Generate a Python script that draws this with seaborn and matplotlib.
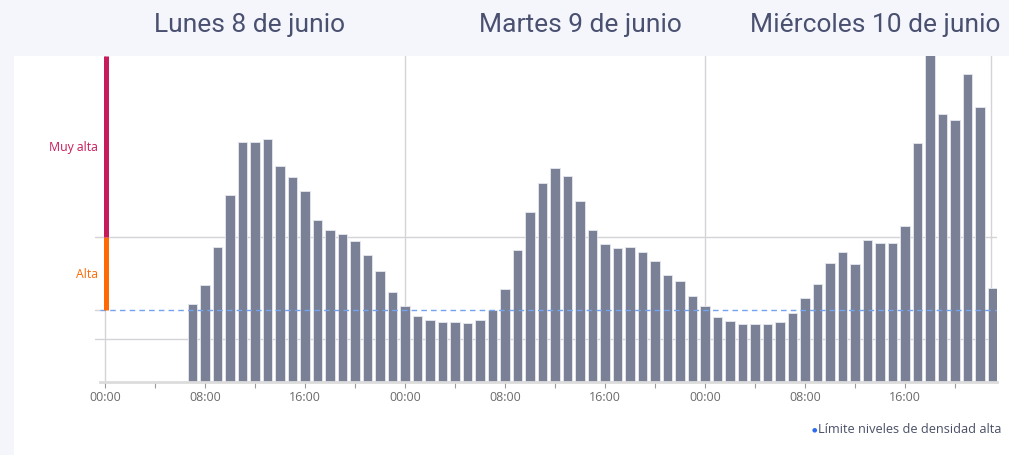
import matplotlib
matplotlib.use('Agg')

import matplotlib.pyplot as plt
import matplotlib.patches as mpatches
import pandas as pd
import seaborn as sns

# hourly density, day 1 starts at 07:00
dia1 = [7.8, 9.7, 13.5, 18.7, 24.0, 24.0, 24.3, 21.6, 20.5, 19.1, 16.2, 15.2,
        14.8, 14.1, 12.7, 11.1, 9.0]
dia2 = [7.6, 6.6, 6.2, 6.0, 6.0, 5.9, 6.2, 7.2, 9.3, 13.2, 17.0, 19.9,
        21.4, 20.6, 18.1, 15.2, 13.8, 13.4, 13.5, 13.0, 12.1, 10.7, 10.1, 8.6]
dia3 = [7.6, 6.5, 6.1, 5.8, 5.8, 5.8, 6.0, 6.9, 8.4, 9.8, 11.9, 13.0,
        11.8, 14.2, 13.9, 13.9, 15.6, 23.9, 34.5, 26.8, 26.2, 30.8, 27.5, 9.4]

dias = ["Lunes 8 de junio", "Martes 9 de junio", "Miércoles 10 de junio"]
tick_labels = ["00:00", "08:00", "16:00"] * 3

limite_alta = 7.2
limite_muy_alta = 14.5
linea_baja = 4.3
y_max = 32.6

horas = list(range(7, 24)) + list(range(24, 48)) + list(range(48, 72))
df = pd.DataFrame({"hora": horas, "densidad": dia1 + dia2 + dia3})

sns.set_style("white")
plt.rcParams['font.family'] = ['Open Sans', 'DejaVu Sans']

fig = plt.figure(figsize=(10.09, 4.56), dpi=100)
fig.patch.set_facecolor("#f5f6fc")
fig.patches.append(mpatches.Rectangle(
    (14 / 1009, 0), 1, 1 - 57 / 456,
    transform=fig.transFigure, facecolor="white", edgecolor="none", zorder=-1
))

ax = fig.add_axes([100 / 1009, 73 / 456, 897 / 1009, 326 / 456])
ax.set_facecolor("none")
ax.set_zorder(2)

# grid lines
for y in [linea_baja, limite_muy_alta]:
    ax.axhline(y, color="#d4d4d8", lw=1, zorder=0)
for x in [0, 24, 48, 70.9]:
    ax.axvline(x, color="#d4d4d8", lw=1, zorder=0)

sns.barplot(
    data=df,
    x="hora",
    y="densidad",
    native_scale=True,
    color="#7a8095",
    saturation=1,
    width=0.78,
    edgecolor="#e6e8ef",
    linewidth=0.6,
    ax=ax,
    zorder=2
)

ax.axhline(limite_alta, color="#74a3f0", lw=1, ls=(0, (4, 3)), zorder=3)

# level band on the left
ax.plot([0.04, 0.04], [limite_alta, limite_muy_alta], color="#ff6a06",
        lw=3.6, solid_capstyle="butt", zorder=4, clip_on=False)
ax.plot([0.04, 0.04], [limite_muy_alta, y_max], color="#c81b5a",
        lw=3.6, solid_capstyle="butt", zorder=4, clip_on=False)

ax.set_xlim(-0.4, 71.36)
ax.set_ylim(0, y_max)

ax.set_xticks(range(0, 72, 8))
ax.set_xticklabels(tick_labels)
ax.set_xticks(range(4, 72, 8), minor=True)
ax.tick_params(axis="x", which="both", length=4, width=0.8, color="#9a9a9a",
               labelsize=9, labelcolor="#6b6b6b", pad=2, bottom=True)

ax.set_yticks([])
ax.text(-0.002, (limite_alta + limite_muy_alta) / 2, "Alta",
        transform=ax.get_yaxis_transform(), ha="right", va="center",
        fontsize=8.8, color="#ff6a06")
ax.text(-0.002, (limite_muy_alta + y_max) / 2, "Muy alta",
        transform=ax.get_yaxis_transform(), ha="right", va="center",
        fontsize=8.8, color="#c81b5a")
for y in [linea_baja, limite_alta, limite_muy_alta]:
    ax.plot([-0.006, 0], [y, y], color="#d4d4d8", lw=1,
            transform=ax.get_yaxis_transform(), clip_on=False)

ax.set_xlabel("")
ax.set_ylabel("")
for side in ["top", "right", "left"]:
    ax.spines[side].set_visible(False)
ax.spines["bottom"].set_color("#dcdcdc")
ax.spines["bottom"].set_linewidth(2)

for dia, xc in zip(dias, [250, 580, 875]):
    fig.text(xc / 1009, 1 - 25 / 456, dia, ha="center", va="center",
             fontsize=19, color="#4a5070",
             family=["Roboto", "DejaVu Sans"])

fig.text(818 / 1009, 1 - 430 / 456, "Límite niveles de densidad alta",
         ha="left", va="center", fontsize=9.2, color="#4a4f66")
fig.text(814 / 1009, 1 - 430 / 456, "●", ha="center", va="center",
         fontsize=4.5, color="#2d6cf0", family=["DejaVu Sans"])

plt.savefig("out.png", dpi=100)
plt.close()
